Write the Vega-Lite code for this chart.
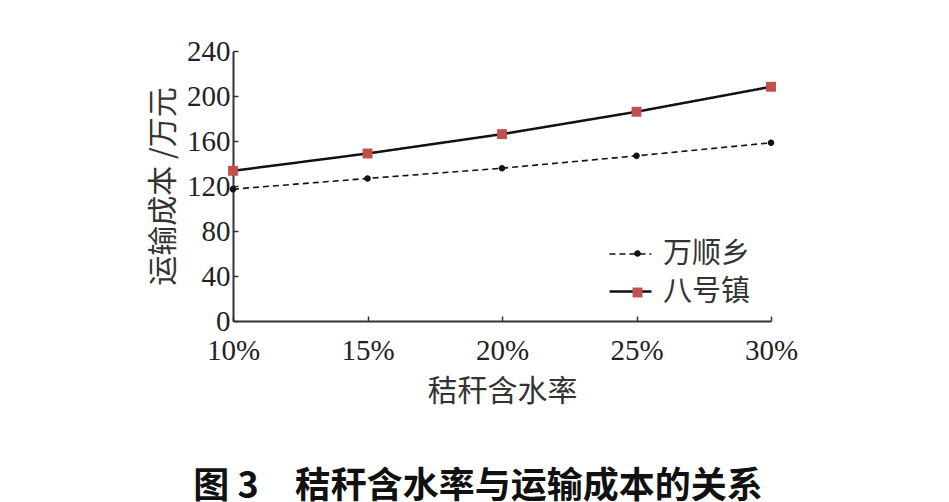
{
  "$schema": "https://vega.github.io/schema/vega-lite/v6.json",
  "width": 538,
  "height": 270,
  "autosize": {"type": "none"},
  "padding": {"left": 233, "top": 51, "right": 178, "bottom": 181},
  "background": "white",
  "config": {"view": {"stroke": null}, "font": "Liberation Serif"},
  "title": {
    "text": "图 3\u2003秸秆含水率与运输成本的关系",
    "orient": "bottom",
    "anchor": "middle",
    "font": "Noto Sans CJK SC",
    "fontSize": 36,
    "fontWeight": "bold",
    "color": "#111",
    "offset": 64,
    "dx": -24
  },
  "data": {
    "values": [
      {"含水率": 10, "运输成本": 117.2, "乡镇": "万顺乡"},
      {"含水率": 15, "运输成本": 126.7, "乡镇": "万顺乡"},
      {"含水率": 20, "运输成本": 135.8, "乡镇": "万顺乡"},
      {"含水率": 25, "运输成本": 146.8, "乡镇": "万顺乡"},
      {"含水率": 30, "运输成本": 158.4, "乡镇": "万顺乡"},
      {"含水率": 10, "运输成本": 133.5, "乡镇": "八号镇"},
      {"含水率": 15, "运输成本": 148.9, "乡镇": "八号镇"},
      {"含水率": 20, "运输成本": 166.1, "乡镇": "八号镇"},
      {"含水率": 25, "运输成本": 186.0, "乡镇": "八号镇"},
      {"含水率": 30, "运输成本": 208.2, "乡镇": "八号镇"}
    ]
  },
  "encoding": {
    "x": {
      "field": "含水率",
      "type": "quantitative",
      "scale": {"domain": [10, 30], "nice": false, "zero": false},
      "axis": {
        "values": [10, 15, 20, 25, 30],
        "labelExpr": "datum.value + '%'",
        "title": "秸秆含水率",
        "titleFont": "Noto Sans CJK SC",
        "titleFontSize": 30,
        "titleFontWeight": "normal",
        "titleColor": "#333",
        "titlePadding": 11,
        "labelFont": "Liberation Serif",
        "labelFontSize": 29,
        "labelColor": "#222",
        "labelFlush": false,
        "labelPadding": 20,
        "tickSize": -5,
        "tickColor": "#333",
        "tickWidth": 1.5,
        "domainColor": "#333",
        "domainWidth": 2,
        "grid": false
      }
    },
    "y": {
      "field": "运输成本",
      "type": "quantitative",
      "scale": {"domain": [0, 240], "nice": false},
      "axis": {
        "values": [0, 40, 80, 120, 160, 200, 240],
        "title": "运输成本 /万元",
        "titleFont": "Noto Sans CJK SC",
        "titleFontSize": 30,
        "titleFontWeight": "normal",
        "titleColor": "#333",
        "titlePadding": 8,
        "labelFont": "Liberation Serif",
        "labelFontSize": 29,
        "labelColor": "#222",
        "labelPadding": 8,
        "tickSize": -5,
        "tickColor": "#333",
        "tickWidth": 1.5,
        "domainColor": "#333",
        "domainWidth": 2,
        "grid": false
      }
    }
  },
  "layer": [
    {
      "mark": {"type": "line", "color": "#111"},
      "encoding": {
        "strokeDash": {
          "field": "乡镇",
          "type": "nominal",
          "scale": {"domain": ["万顺乡", "八号镇"], "range": [[6, 4], [1, 0]]},
          "legend": {
            "title": null,
            "orient": "none",
            "legendX": 375,
            "legendY": 181,
            "padding": 0,
            "symbolType": "stroke",
            "symbolSize": 1764,
            "symbolStrokeColor": "#111",
            "labelFont": "Noto Sans CJK SC",
            "labelFontSize": 29,
            "labelColor": "#333",
            "labelOffset": 10,
            "rowPadding": -4
          }
        },
        "strokeWidth": {
          "field": "乡镇",
          "type": "nominal",
          "scale": {"domain": ["万顺乡", "八号镇"], "range": [1.6, 2.5]}
        }
      }
    },
    {
      "mark": {"type": "point", "filled": true, "opacity": 1, "size": 121},
      "encoding": {
        "color": {
          "field": "乡镇",
          "type": "nominal",
          "scale": {"range": ["#111111", "#c0504d"]},
          "legend": {
            "title": null,
            "orient": "none",
            "legendX": 390,
            "legendY": 188,
            "padding": 0,
            "symbolSize": 121,
            "labelFontSize": 29,
            "labelExpr": "''",
            "rowPadding": 9
          }
        },
        "shape": {
          "field": "乡镇",
          "type": "nominal",
          "scale": {"range": ["M-0.6,0A0.6,0.6 0 1,0 0.6,0A0.6,0.6 0 1,0 -0.6,0Z", "M-0.9,-0.9H0.9V0.9H-0.9Z"]}
        }
      }
    }
  ]
}
